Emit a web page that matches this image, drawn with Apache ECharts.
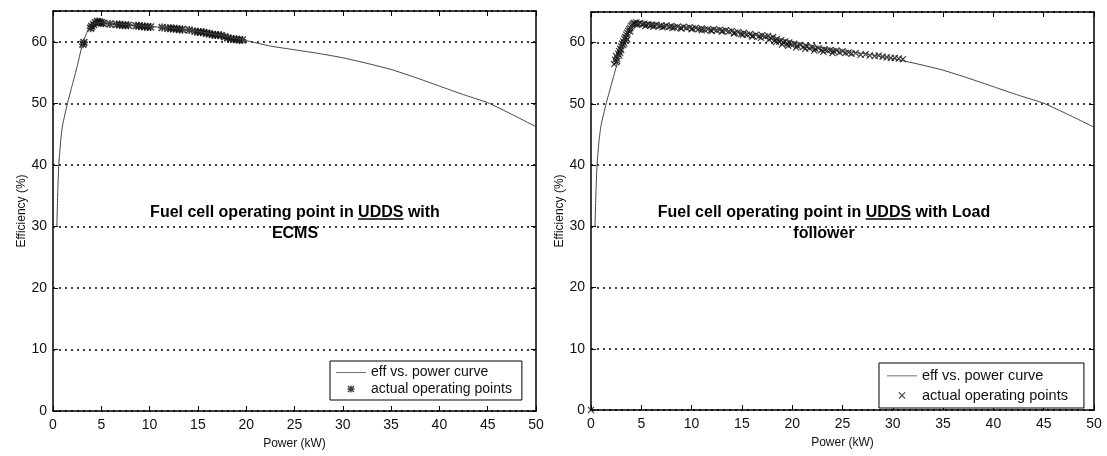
<!DOCTYPE html>
<html>
<head>
<meta charset="utf-8">
<script src="https://cdn.jsdelivr.net/npm/echarts@6/dist/echarts.min.js"></script>
<style>
html,body{margin:0;padding:0;background:#fff;}
#c{width:1107px;height:456px;}
</style>
</head>
<body>
<div id="c"></div>
<script>
// ---- data ----
const xTicks = [0, 5, 10, 15, 20, 25, 30, 35, 40, 45, 50];
const yTicks = [0, 10, 20, 30, 40, 50, 60];

const curvePower = [0.4, 0.5, 0.6, 0.8, 1.0, 1.5, 2.0, 2.5, 3.0, 3.5, 4.0, 4.5, 5, 6, 7.5, 10, 12.5, 15, 17.5, 20, 22.5, 25, 27.5, 30, 32.5, 35, 37.5, 40, 42.5, 45, 47.5, 50];
const curveEff   = [30, 36, 40, 44, 46.5, 50, 53, 56, 59.3, 61.5, 62.7, 63.1, 63.1, 63.0, 62.8, 62.5, 62.2, 61.7, 61.0, 60.2, 59.3, 58.7, 58.1, 57.4, 56.5, 55.5, 54.2, 52.8, 51.4, 50.1, 48.2, 46.2];

const ecmsPower = [3.1, 3.2, 3.9, 4.0, 4.2, 4.4, 4.6, 4.8, 5.0, 5.2, 5.9, 6.6, 6.9, 7.2, 7.5, 7.8, 8.6, 8.9, 9.2, 9.5, 9.8, 10.1, 11.3, 11.9, 12.2, 12.5, 12.8, 13.1, 13.4, 14.1, 14.7, 15.0, 15.3, 15.6, 15.9, 16.2, 16.5, 16.8, 17.1, 17.4, 17.8, 18.1, 18.4, 18.7, 19.0, 19.3, 19.6];
const ecmsEff   = [59.6, 59.9, 62.2, 62.5, 62.8, 63.1, 63.3, 63.2, 63.1, 63.0, 62.9, 62.8, 62.8, 62.7, 62.7, 62.7, 62.6, 62.6, 62.5, 62.5, 62.4, 62.4, 62.3, 62.2, 62.2, 62.1, 62.1, 62.0, 62.0, 61.9, 61.7, 61.6, 61.6, 61.5, 61.4, 61.3, 61.2, 61.1, 61.1, 61.0, 60.8, 60.6, 60.5, 60.4, 60.4, 60.3, 60.3];

const lfPower = [0, 2.3, 2.4, 2.5, 2.5, 2.6, 2.7, 2.8, 2.8, 2.9, 3.0, 3.0, 3.1, 3.2, 3.2, 3.3, 3.4, 3.5, 3.5, 3.6, 3.7, 3.8, 3.9, 4.0, 4.1, 4.2, 4.3, 4.4, 4.5, 4.7, 4.9, 5.1, 5.3, 5.5, 5.7, 5.9, 6.1, 6.3, 6.5, 6.8, 7.0, 7.3, 7.5, 7.8, 8.0, 8.3, 8.6, 8.9, 9.2, 9.5, 9.8, 10.1, 10.4, 10.7, 11.0, 11.3, 11.6, 11.9, 12.2, 12.5, 12.8, 13.1, 13.4, 13.7, 14.0, 14.3, 14.6, 14.9, 15.2, 15.5, 15.8, 16.1, 16.4, 16.7, 17.0, 17.3, 17.6, 17.9, 18.1, 18.3, 18.5, 18.7, 18.9, 19.1, 19.3, 19.5, 19.7, 19.9, 20.2, 20.5, 20.8, 21.1, 21.4, 21.7, 22.0, 22.3, 22.6, 22.9, 23.2, 23.5, 23.8, 24.1, 24.4, 24.7, 25.0, 25.3, 25.6, 25.9, 26.3, 26.8, 27.3, 27.7, 28.2, 28.6, 29.0, 29.4, 29.8, 30.2, 30.6, 31.0,
  2.6, 2.9, 3.3, 3.6, 3.9, 4.6, 5.4, 6.2, 7.1, 8.1, 9.0, 10.0, 11.0, 12.0, 13.0, 14.2, 15.1, 16.0, 16.9, 17.7, 18.4, 19.0, 19.6, 20.4, 21.3, 22.2, 23.1, 24.0];
const lfEff   = [0, 56.5, 57.2, 56.8, 57.8, 57.4, 58.2, 58.6, 57.9, 59.0, 59.4, 58.8, 59.8, 60.2, 59.6, 60.6, 60.9, 61.3, 60.8, 61.6, 61.9, 62.2, 62.4, 62.7, 62.9, 63.1, 63.2, 63.0, 63.3, 63.1, 63.2, 63.0, 63.1, 62.9, 63.0, 62.8, 62.9, 62.8, 62.9, 62.7, 62.8, 62.6, 62.8, 62.6, 62.7, 62.5, 62.6, 62.4, 62.6, 62.4, 62.5, 62.3, 62.4, 62.2, 62.3, 62.1, 62.2, 62.0, 62.2, 62.0, 62.1, 61.9, 62.0, 61.8, 61.9, 61.6, 61.7, 61.4, 61.6, 61.3, 61.4, 61.1, 61.3, 61.0, 61.2, 61.0, 61.1, 60.7, 60.9, 60.4, 60.6, 60.2, 60.4, 60.0, 60.2, 59.8, 60.0, 59.7, 59.8, 59.5, 59.6, 59.3, 59.4, 59.1, 59.3, 59.0, 59.1, 58.8, 58.9, 58.7, 58.8, 58.6, 58.7, 58.4, 58.6, 58.3, 58.4, 58.2, 58.3, 58.0, 58.1, 57.9, 57.8, 57.9, 57.7, 57.6, 57.5, 57.5, 57.4, 57.3,
  57.0, 58.3, 59.9, 60.5, 61.8, 62.9, 62.7, 62.6, 62.5, 62.4, 62.3, 62.2, 62.0, 61.9, 61.8, 61.5, 61.3, 61.0, 60.8, 60.5, 60.1, 59.7, 59.5, 59.2, 59.0, 58.7, 58.5, 58.3];

// ---- build ----
const zip = (a, b) => a.map((v, i) => [v, b[i]]);
const STAR = 'path://M0,4 L10,4 L10,6 L0,6 Z M4,0 L6,0 L6,10 L4,10 Z M0,1.4 L1.4,0 L10,8.6 L8.6,10 Z M8.6,0 L10,1.4 L1.4,10 L0,8.6 Z';
const XMARK = 'path://M0,1.2 L1.2,0 L10,8.8 L8.8,10 Z M8.8,0 L10,1.2 L1.2,10 L0,8.8 Z';
const LINEICON = 'path://M0,3.4 L30,3.4 L30,4.2 L0,4.2 Z M0,0 L0.01,0 L0.01,0.01 Z M0,7 L0.01,7 L0.01,6.99 Z';
const FONT = 'Liberation Sans';
const labelStyle = { color: '#111', fontSize: 14, fontFamily: FONT };

function xAx(gi) {
  return [{
    type: 'value', gridIndex: gi, min: 0, max: 50, interval: 5,
    name: 'Power (kW)', nameLocation: 'middle', nameGap: 27,
    nameTextStyle: { color: '#111', fontSize: 12, fontFamily: FONT },
    axisLine: { show: true, lineStyle: { color: '#000', width: 1.5 } },
    axisTick: { show: true, inside: true, length: 5, lineStyle: { color: '#000' } },
    axisLabel: Object.assign({ margin: 7 }, labelStyle),
    splitLine: { show: false }
  }, {
    type: 'value', gridIndex: gi, position: 'top', min: 0, max: 50, interval: 5,
    axisLine: { show: true, onZero: false, lineStyle: { color: '#000', width: 1.5 } },
    axisTick: { show: true, inside: true, length: 5, lineStyle: { color: '#000' } },
    axisLabel: { show: false }, splitLine: { show: false }
  }];
}
function yAx(gi) {
  return [{
    type: 'value', gridIndex: gi, min: 0, max: 65, interval: 10,
    name: 'Efficiency (%)', nameLocation: 'middle', nameGap: 24, nameRotate: 90,
    nameTextStyle: { color: '#111', fontSize: 12, fontFamily: FONT },
    axisLine: { show: true, lineStyle: { color: '#000', width: 1.5 } },
    axisTick: { show: true, inside: true, length: 5, lineStyle: { color: '#000' } },
    axisLabel: Object.assign({ margin: 6, formatter: v => (yTicks.indexOf(v) >= 0 ? String(v) : '') }, labelStyle),
    splitLine: { show: true, lineStyle: { color: '#000', type: [2, 4], width: 1.5 } }
  }, {
    type: 'value', gridIndex: gi, position: 'right', min: 0, max: 65, interval: 10,
    axisLine: { show: true, onZero: false, lineStyle: { color: '#000', width: 1.5 } },
    axisTick: { show: true, inside: true, length: 5, lineStyle: { color: '#000' } },
    axisLabel: { show: false }, splitLine: { show: false }
  }];
}

const NAME_L = 'eff vs. power curve';
const NAME_P = 'actual operating points';

// titles and UDDS underline positions (measured from the rendered text font)
const TITLE_FONT = 'bold 16px "Liberation Sans"';
const titles = [
  { l1: 'Fuel cell operating point in UDDS with', l2: 'ECMS', cx: 295 },
  { l1: 'Fuel cell operating point in UDDS with Load', l2: 'follower', cx: 824 }
];
const mctx = document.createElement('canvas').getContext('2d');
mctx.font = TITLE_FONT;
const TITLE_TOP = 202, LINE_H = 21;
const underlines = titles.map(t => {
  const full = mctx.measureText(t.l1).width;
  const pre = mctx.measureText('Fuel cell operating point in ').width;
  const w = mctx.measureText('UDDS').width;
  const x0 = t.cx - full / 2 + pre;
  return { type: 'line', shape: { x1: x0, y1: TITLE_TOP + 17, x2: x0 + w, y2: TITLE_TOP + 17 },
           style: { stroke: '#000', lineWidth: 1.5 } };
});

const option = {
  animation: false,
  backgroundColor: '#fff',
  grid: [
    { left: 53, right: 571, top: 11, bottom: 45 },
    { left: 591, right: 13, top: 12, bottom: 46 }
  ],
  xAxis: [...xAx(0), ...xAx(1)],
  yAxis: [...yAx(0), ...yAx(1)],
  title: titles.map(t => ({
    text: t.l1 + '\n' + t.l2, left: t.cx, top: TITLE_TOP, textAlign: 'center', padding: 0,
    textStyle: { fontFamily: FONT, fontSize: 16, fontWeight: 'bold', color: '#000', lineHeight: LINE_H }
  })),
  graphic: underlines,
  legend: [
    { left: 330, top: 361, orient: 'vertical', itemGap: 3, itemWidth: 30, itemHeight: 7,
      borderColor: '#000', borderWidth: 1, padding: [4, 10, 4, 6], backgroundColor: '#fff',
      textStyle: { fontFamily: FONT, fontSize: 14, color: '#111' },
      data: [{ name: NAME_L, icon: LINEICON }, NAME_P] },
    { left: 879, top: 363, orient: 'vertical', itemGap: 5, itemWidth: 30, itemHeight: 7,
      borderColor: '#000', borderWidth: 1, padding: [5, 12, 5, 8], backgroundColor: '#fff',
      textStyle: { fontFamily: FONT, fontSize: 14.5, color: '#111' },
      data: [{ name: NAME_L + ' ', icon: LINEICON }, NAME_P + ' '] }
  ],
  series: [
    { name: NAME_L, type: 'line', xAxisIndex: 0, yAxisIndex: 0, data: zip(curvePower, curveEff),
      symbol: 'none', smooth: 0.15, lineStyle: { color: '#444', width: 1 }, itemStyle: { color: '#444' } },
    { name: NAME_P, type: 'scatter', xAxisIndex: 0, yAxisIndex: 0, data: zip(ecmsPower, ecmsEff),
      symbol: STAR, symbolSize: 8, itemStyle: { color: '#111' } },
    { name: NAME_L + ' ', type: 'line', xAxisIndex: 2, yAxisIndex: 2, data: zip(curvePower, curveEff),
      symbol: 'none', smooth: 0.15, lineStyle: { color: '#444', width: 1 }, itemStyle: { color: '#444' } },
    { name: NAME_P + ' ', type: 'scatter', xAxisIndex: 2, yAxisIndex: 2, data: zip(lfPower, lfEff),
      symbol: XMARK, symbolSize: 7, itemStyle: { color: '#111' } }
  ]
};

const chart = echarts.init(document.getElementById('c'), null, { renderer: 'canvas' });
chart.setOption(option);
</script>
</body>
</html>
